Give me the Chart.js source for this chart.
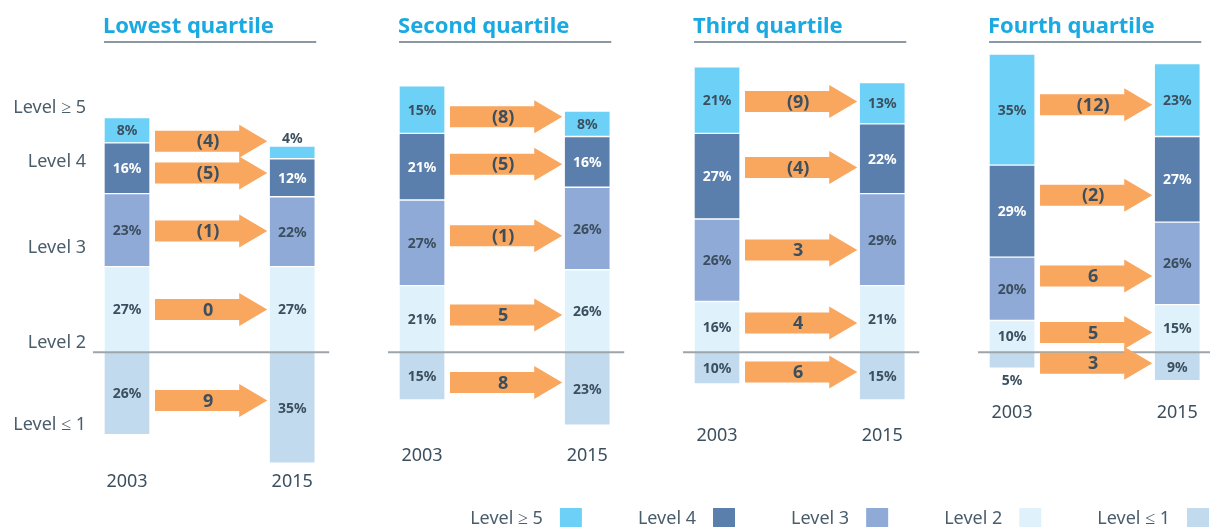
<!DOCTYPE html>
<html>
<head>
<meta charset="utf-8">
<script src="https://cdn.jsdelivr.net/npm/chart.js@4"></script>
<style>
  html, body { margin: 0; padding: 0; background: #fff; overflow: hidden; }
  #wrap { width: 1210px; height: 527px; position: relative; }
</style>
</head>
<body>
<div id="wrap"><canvas id="chart"></canvas></div>
<script>
const panels = ['Lowest quartile', 'Second quartile', 'Third quartile', 'Fourth quartile'];
const years = ['2003', '2015'];
const levels = ['Level ≥ 5', 'Level 4', 'Level 3', 'Level 2', 'Level ≤ 1'];

// share of students in %, per panel: 2003, 2015
const level5 = [8, 4, 15, 8, 21, 13, 35, 23];
const level4 = [16, 12, 21, 16, 27, 22, 29, 27];
const level3 = [23, 22, 27, 26, 26, 29, 20, 26];
const level2 = [27, 27, 21, 26, 16, 21, 10, 15];
const level1 = [26, 35, 15, 23, 10, 15, 5, 9];

// change labels on the arrows, one per panel
const change5 = ['(4)', '(8)', '(9)', '(12)'];
const change4 = ['(5)', '(5)', '(4)', '(2)'];
const change3 = ['(1)', '(1)', '3', '6'];
const change2 = ['0', '5', '4', '5'];
const change1 = ['9', '8', '6', '3'];

// where the level names sit on the left axis
const levelTicks = [77, 60, 33, 3, -23];

const ink = '#3b4f5e';
const yearGap = 0.56;           // 2015 bar offset inside a panel
const yearLabelGap = [19, 31, 36, 32];

const xPos = k => Math.floor(k / 2) + (k % 2) * yearGap;
const points = (arr, sign) => arr.map((v, k) => ({ x: xPos(k), y: sign * v }));

function levelSet(name, values, sign, color, changes, labelColor) {
  return {
    label: name,
    data: points(values, sign),
    backgroundColor: color,
    borderColor: '#ffffff',
    borderWidth: 1,
    borderSkipped: false,
    barThickness: 46,
    changes: changes,
    labelColor: labelColor
  };
}

const annotate = {
  id: 'annotate',
  afterDatasetsDraw(chart) {
    const ctx = chart.ctx;
    const zero = chart.scales.y.getPixelForValue(0);
    const sets = chart.data.datasets;
    const box = (d, k) => {
      const el = chart.getDatasetMeta(d).data[k];
      const { x, y, base, width } = el.getProps(['x', 'y', 'base', 'width'], true);
      return { x, top: Math.min(y, base), bottom: Math.max(y, base), left: x - width / 2, right: x + width / 2 };
    };
    ctx.save();

    panels.forEach((title, p) => {
      const a = box(0, 2 * p), b = box(0, 2 * p + 1);

      ctx.strokeStyle = '#9ea5aa';
      ctx.lineWidth = 2;
      ctx.beginPath();
      ctx.moveTo(a.left - 11, zero);
      ctx.lineTo(Math.min(b.right + 14, chart.width), zero);
      ctx.stroke();

      ctx.fillStyle = '#1ba9e1';
      ctx.font = 'bold 22px "Noto Sans"';
      ctx.textAlign = 'left';
      ctx.textBaseline = 'alphabetic';
      ctx.fillText(title, a.left - 1, 33);
      ctx.strokeStyle = '#8c98a2';
      ctx.beginPath();
      ctx.moveTo(a.left, 42);
      ctx.lineTo(b.right + 1, 42);
      ctx.stroke();

      sets.forEach((ds, d) => {
        const l = box(d, 2 * p), r = box(d, 2 * p + 1);
        const y = ((l.top + l.bottom) / 2 + (r.top + r.bottom) / 2) / 2;
        const x0 = l.right + 5, x1 = r.left - 2, hx = x1 - 28;
        ctx.fillStyle = '#f9a65e';
        ctx.beginPath();
        ctx.moveTo(x0, y - 10.5);
        ctx.lineTo(hx, y - 10.5);
        ctx.lineTo(hx, y - 16.5);
        ctx.lineTo(x1, y);
        ctx.lineTo(hx, y + 16.5);
        ctx.lineTo(hx, y + 10.5);
        ctx.lineTo(x0, y + 10.5);
        ctx.closePath();
        ctx.fill();
        ctx.fillStyle = ink;
        ctx.font = 'bold 18px "Noto Sans"';
        ctx.textAlign = 'center';
        ctx.textBaseline = 'middle';
        ctx.fillText(ds.changes[p], (x0 + x1) / 2 - 3, y + 1);
      });

      let low = 0;
      sets.forEach((ds, d) => { low = Math.max(low, box(d, 2 * p).bottom, box(d, 2 * p + 1).bottom); });
      ctx.fillStyle = ink;
      ctx.font = '18px "Noto Sans"';
      ctx.textAlign = 'center';
      ctx.textBaseline = 'middle';
      ctx.fillText(years[0], a.x, low + yearLabelGap[p]);
      ctx.fillText(years[1], b.x, low + yearLabelGap[p]);
    });

    ctx.font = 'bold 14px "Noto Sans"';
    ctx.textAlign = 'center';
    ctx.textBaseline = 'middle';
    sets.forEach((ds, d) => {
      ds.data.forEach((pt, k) => {
        const s = box(d, k);
        const v = Math.abs(pt.y);
        let y = (s.top + s.bottom) / 2, color = ds.labelColor;
        if (v < 6) {
          y = pt.y > 0 ? s.top - 8 : s.bottom + 12;
          color = ink;
        }
        ctx.fillStyle = color;
        ctx.fillText(v + '%', s.x, y + 1);
      });
    });

    // legend: text first, swatch after, right-aligned
    const order = [3, 2, 1, 0, 4];
    ctx.font = '18px "Noto Sans"';
    ctx.textAlign = 'right';
    ctx.textBaseline = 'middle';
    let x = 1209;
    for (let i = order.length - 1; i >= 0; i--) {
      const ds = sets[order[i]];
      ctx.fillStyle = ds.backgroundColor;
      ctx.fillRect(x - 22, 508, 22, 22);
      ctx.fillStyle = '#4a5d6b';
      ctx.fillText(ds.label, x - 39, 519);
      x = x - 39 - ctx.measureText(ds.label).width - 56;
    }
    ctx.restore();
  }
};

Chart.defaults.font.family = '"Noto Sans"';

new Chart(document.getElementById('chart').getContext('2d'), {
  type: 'bar',
  data: {
    datasets: [
      levelSet(levels[3], level2, 1, '#dff1fa', change2, ink),
      levelSet(levels[2], level3, 1, '#8faad7', change3, ink),
      levelSet(levels[1], level4, 1, '#5a7fac', change4, '#ffffff'),
      levelSet(levels[0], level5, 1, '#6dd0f7', change5, ink),
      levelSet(levels[4], level1, -1, '#c2daee', change1, ink)
    ]
  },
  options: {
    responsive: true,
    maintainAspectRatio: false,
    animation: false,
    layout: { padding: { top: 35, bottom: 32, left: 0, right: 0 } },
    plugins: { legend: { display: false }, tooltip: { enabled: false } },
    scales: {
      x: { type: 'linear', min: -0.1085, max: 3.671, offset: false, stacked: true, display: false },
      y: {
        min: -45,
        max: 100,
        stacked: true,
        grid: { display: false, drawTicks: false },
        border: { display: false },
        afterBuildTicks: s => { s.ticks = levelTicks.map(v => ({ value: v })); },
        afterFit: s => { s.width = 95; },
        ticks: {
          padding: 9,
          autoSkip: false,
          color: '#4a5d6b',
          font: { size: 18 },
          callback: (v, i) => levels[i]
        }
      }
    }
  },
  plugins: [annotate]
});
</script>
</body>
</html>
